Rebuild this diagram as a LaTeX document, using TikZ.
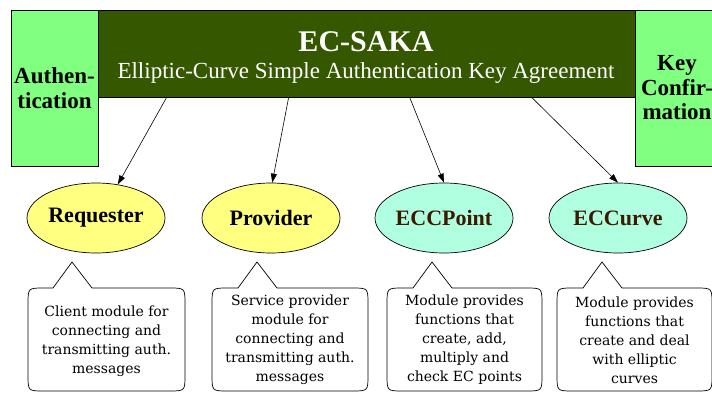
\documentclass[tikz,border=0pt]{standalone}
\usepackage{fontspec}
\setmainfont{Liberation Serif}
\newfontfamily\dvs{DejaVu Serif}
\usetikzlibrary{shapes.geometric,calc,arrows.meta}
\definecolor{lgreen}{HTML}{80FF80}
\definecolor{dgreen}{HTML}{345700}
\definecolor{lyellow}{HTML}{FFFF80}
\definecolor{lmint}{HTML}{B0FFE0}
\definecolor{dbrown}{HTML}{3C1A00}
\newcommand\mycall[3]{%
\draw[cal] (#1,304) -- (#1,375) .. controls (#1,391) .. (#1+16,391) -- (#2-16,391)
  .. controls (#2,391) .. (#2,375) -- (#2,304) .. controls (#2,288) .. (#2-16,288)
  -- (#3+20,288) -- (#3,262) -- (#3-19,288) -- (#1+16,288) .. controls (#1,288) .. (#1,304) -- cycle;}
\begin{document}
\begin{tikzpicture}[x=1pt,y=-1pt,
  sidebox/.style={draw=black,line width=0.7pt,fill=lgreen,minimum width=87,minimum height=156,
     inner sep=0pt,align=center,font=\fontsize{23}{24.5}\selectfont\bfseries},
  titlebox/.style={draw=black,line width=0.7pt,fill=dgreen,minimum width=537,minimum height=87,inner sep=0pt},
  modnode/.style={ellipse,draw=black,line width=0.7pt,minimum width=138,minimum height=70,inner sep=0pt,
     font=\fontsize{22}{24}\selectfont\bfseries},
  arr/.style={-{Triangle[length=9pt,width=6pt]},line width=0.6pt,black},
  cal/.style={draw=black,line width=0.7pt,fill=white},
  caltext/.style={align=center,inner sep=0pt,font=\dvs\fontsize{14}{19}\selectfont}]
\useasboundingbox (0,0) rectangle (712,393);
\fill[white] (0,0) rectangle (712,393);
\node[sidebox] (auth) at (54.5,88) {Authen-\\tication};
\node[sidebox,minimum width=84] (key) at (677,88) {Key\\Confir-\\mation};
\node[titlebox] (title) at (366.5,53.5) {};
\node[anchor=base,text=white,font=\fontsize{30}{30}\selectfont\bfseries,inner sep=0pt] (tname) at (366,52) {EC-SAKA};
\node[anchor=base,text=white,font=\fontsize{23}{23}\selectfont,inner sep=0pt] (tsub) at (366,79) {Elliptic-Curve Simple Authentication Key Agreement};

\node[modnode,fill=lyellow] (req) at (96,218) {Requester};
\node[modnode,fill=lyellow] (prov) at (271,218) {Provider};
\node[modnode,fill=lmint,text=dbrown] (ecp) at (444,218) {ECCPoint};
\node[modnode,fill=lmint,text=dbrown] (ecc) at (618,218) {ECCurve};

\draw[arr] ($(title.south west)+(69,0)$) -- (req.57);
\draw[arr] ($(title.south west)+(191,0)$) -- (prov.88);
\draw[arr] ($(title.south west)+(312,0)$) -- (ecp.north);
\draw[arr] ($(title.south west)+(434,0)$) -- (ecc.north);

\mycall{28}{185}{72}
\mycall{212}{368}{257}
\mycall{387}{542}{432}
\mycall{557}{712}{602}
\node[caltext] (c1) at (106.5,341) {Client module for\\connecting and\\transmitting auth.\\messages};
\node[caltext] (c2) at (290,340) {Service provider\\module for\\connecting and\\transmitting auth.\\messages};
\node[caltext] (c3) at (464.5,340) {Module provides\\functions that\\create, add,\\multiply and\\check EC points};
\node[caltext] (c4) at (634.5,340) {Module provides\\functions that\\create and deal\\with elliptic\\curves};
\end{tikzpicture}
\end{document}
